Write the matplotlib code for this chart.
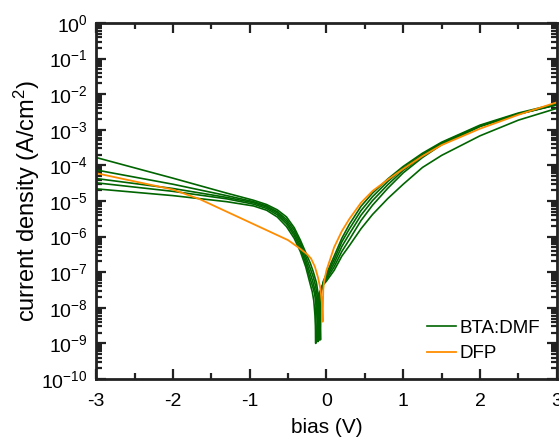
import matplotlib
matplotlib.use('Agg')
import matplotlib.pyplot as plt
import numpy as np
from matplotlib.ticker import LogLocator, MultipleLocator, NullFormatter

plt.rcParams['font.family'] = ['Liberation Sans', 'DejaVu Sans']
plt.rcParams['mathtext.default'] = 'regular'
plt.rcParams['axes.unicode_minus'] = False

green = '#006400'
orange = '#ff8c00'

# bias (V) where the BTA:DMF sweeps are sampled, reverse side and forward side
v_rev = [-3.0, -2.0, -1.3, -0.95, -0.78, -0.64, -0.52, -0.42, -0.34, -0.27, -0.21]
v_fwd = [-0.04, 0.0, 0.1, 0.2, 0.3, 0.45, 0.6, 0.8, 1.0, 1.25, 1.5, 2.0, 2.5, 3.0]

# log10 of current density (A/cm2), five BTA:DMF devices
bta_rev = [
    [-3.78, -4.36, -4.78, -4.98, -5.1, -5.25, -5.45, -5.75, -6.1, -6.45, -6.75],
    [-4.13, -4.53, -4.85, -5.02, -5.14, -5.3, -5.52, -5.82, -6.17, -6.55, -6.9],
    [-4.37, -4.65, -4.9, -5.05, -5.17, -5.34, -5.58, -5.9, -6.25, -6.65, -7.05],
    [-4.49, -4.73, -4.94, -5.09, -5.21, -5.39, -5.64, -5.97, -6.33, -6.75, -7.2],
    [-4.66, -4.85, -5.02, -5.14, -5.26, -5.45, -5.72, -6.05, -6.42, -6.85, -7.35],
]
# around the zero-current point
bta_v_dip = [
    [-0.17, -0.13, -0.1, -0.086, -0.078, -0.072],
    [-0.17, -0.14, -0.112, -0.1, -0.095, -0.089],
    [-0.18, -0.15, -0.12, -0.108, -0.102, -0.096],
    [-0.18, -0.155, -0.13, -0.118, -0.112, -0.106],
    [-0.185, -0.165, -0.15, -0.144, -0.14, -0.134],
]
bta_dip = [
    [-7.0, -7.3, -7.75, -8.25, -8.9, -7.6],
    [-7.15, -7.4, -7.8, -8.3, -8.9, -7.65],
    [-7.25, -7.5, -7.9, -8.35, -8.92, -7.7],
    [-7.4, -7.6, -8.0, -8.4, -8.95, -7.7],
    [-7.55, -7.8, -8.2, -8.5, -9.0, -7.75],
]
bta_fwd = [
    [-7.25, -7.05, -6.55, -6.05, -5.65, -5.15, -4.78, -4.38, -4.03, -3.66, -3.35, -2.87, -2.53, -2.27],
    [-7.28, -7.1, -6.65, -6.15, -5.78, -5.27, -4.88, -4.45, -4.08, -3.7, -3.37, -2.89, -2.55, -2.29],
    [-7.3, -7.15, -6.75, -6.28, -5.92, -5.4, -4.99, -4.54, -4.14, -3.74, -3.4, -2.9, -2.56, -2.30],
    [-7.32, -7.2, -6.85, -6.42, -6.08, -5.55, -5.12, -4.64, -4.21, -3.78, -3.42, -2.91, -2.56, -2.30],
    [-7.35, -7.25, -6.95, -6.55, -6.25, -5.78, -5.38, -4.93, -4.53, -4.06, -3.72, -3.17, -2.73, -2.40],
]

# DFP device
v_dfp = [-3.0, -2.5, -2.0, -1.65, -1.3, -1.0, -0.7, -0.5, -0.35, -0.25, -0.2, -0.15,
         -0.11, -0.08, -0.06, -0.05, -0.042, -0.03, 0.0, 0.1, 0.2, 0.3, 0.45, 0.6,
         0.8, 1.0, 1.25, 1.5, 2.0, 2.5, 3.0]
dfp = [-4.22, -4.45, -4.68, -4.95, -5.3, -5.6, -5.9, -6.1, -6.33, -6.5, -6.62, -6.85,
       -7.15, -7.45, -7.85, -8.39, -7.5, -7.25, -6.95, -6.3, -5.85, -5.5, -5.05, -4.72,
       -4.4, -4.1, -3.74, -3.43, -2.97, -2.58, -2.23]

fig = plt.figure(figsize=(5.59, 4.41), dpi=100)
ax = fig.add_axes([0.172, 0.1406, 0.824, 0.8074])

for i in range(len(bta_rev)):
    v = v_rev + bta_v_dip[i] + v_fwd
    lj = bta_rev[i] + bta_dip[i] + bta_fwd[i]
    ax.plot(v, 10.0 ** np.array(lj), color=green, lw=1.2,
            label='BTA:DMF' if i == 0 else None)
ax.plot(v_dfp, 10.0 ** np.array(dfp), color=orange, lw=1.3, label='DFP')

ax.set_yscale('log')
ax.set_xlim(-3, 3)
ax.set_ylim(1e-10, 1)
ax.xaxis.set_major_locator(MultipleLocator(1))
ax.xaxis.set_minor_locator(MultipleLocator(0.5))
ax.yaxis.set_major_locator(LogLocator(base=10, numticks=20))
ax.yaxis.set_minor_locator(LogLocator(base=10, subs=np.arange(2, 10), numticks=20))
ax.yaxis.set_minor_formatter(NullFormatter())

ax.tick_params(which='both', direction='in', top=True, right=True,
               color='#222222', labelsize=14, width=1.6)
ax.tick_params(axis='x', pad=10)
ax.tick_params(axis='y', pad=6)
ax.tick_params(which='major', length=7)
ax.tick_params(which='minor', length=4)
for s in ax.spines.values():
    s.set_linewidth(2.0)
    s.set_color('#222222')

ax.set_xlabel('bias (V)', fontsize=15, labelpad=6)
ax.set_ylabel('current density (A/cm$^2$)', fontsize=17)
ax.yaxis.set_label_coords(-0.118, 0.5)

ax.legend(loc='lower right', frameon=False, fontsize=13.5, handlelength=1.5,
          handletextpad=0.2, labelspacing=0.45, borderaxespad=0.5)

fig.savefig('out.png', dpi=100)
